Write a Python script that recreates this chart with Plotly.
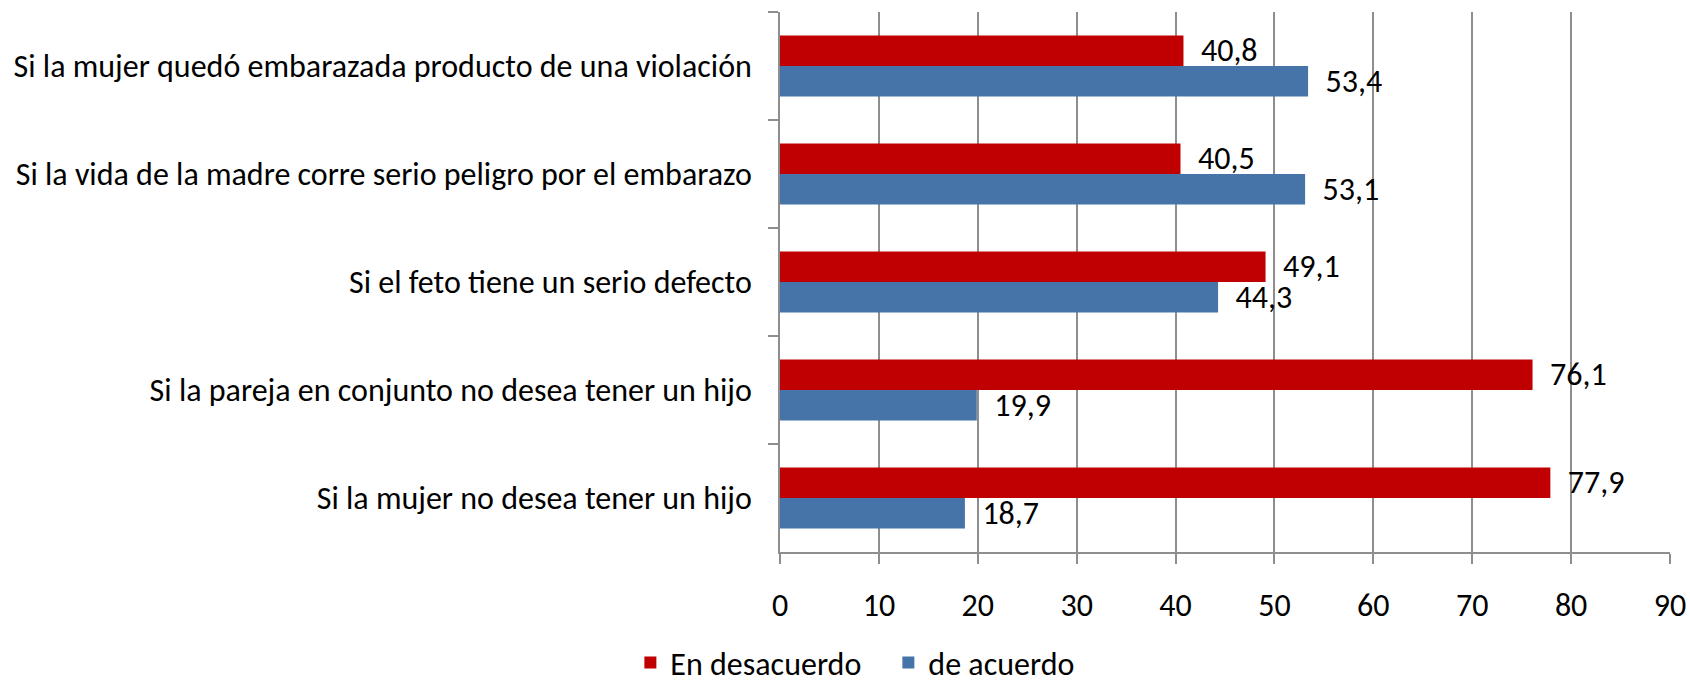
import plotly.graph_objects as go

# Survey items, listed top to bottom
categorias = [
    "Si la mujer quedó embarazada producto de una violación",
    "Si la vida de la madre corre serio peligro por el embarazo",
    "Si el feto tiene un serio defecto",
    "Si la pareja en conjunto no desea tener un hijo",
    "Si la mujer no desea tener un hijo",
]
en_desacuerdo = [40.8, 40.5, 49.1, 76.1, 77.9]
de_acuerdo = [53.4, 53.1, 44.3, 19.9, 18.7]
ticks_x = [0, 10, 20, 30, 40, 50, 60, 70, 80, 90]

FONT = "Carlito, Calibri, 'Liberation Sans Narrow', 'Open Sans', sans-serif"
FS = 32
GRID = "#8E8E8E"

# value labels sit a little to the right of each bar end
LABEL = "\u00a0\u00a0%{x:.1f}"

fig = go.Figure()
fig.add_trace(go.Bar(
    y=categorias, x=en_desacuerdo, orientation="h", name="En desacuerdo",
    marker=dict(color="#C00000", line=dict(width=0)),
    texttemplate=LABEL, textposition="outside",
    textfont=dict(size=FS, color="#000000", family=FONT),
    constraintext="none", cliponaxis=False,
))
fig.add_trace(go.Bar(
    y=categorias, x=de_acuerdo, orientation="h", name="de acuerdo",
    marker=dict(color="#4674A8", line=dict(width=0)),
    texttemplate=LABEL, textposition="outside",
    textfont=dict(size=FS, color="#000000", family=FONT),
    constraintext="none", cliponaxis=False,
))

fig.update_layout(
    width=1690, height=688,
    margin=dict(l=780, r=20, t=12, b=136, autoexpand=False),
    paper_bgcolor="white", plot_bgcolor="white",
    separators=",.",
    barmode="group", bargap=0.435, bargroupgap=0,
    font=dict(family=FONT, size=FS, color="#000000"),
    showlegend=True,
    legend=dict(
        orientation="h", xref="container", yref="paper",
        x=0.373, xanchor="left", y=-0.205, yanchor="middle",
        font=dict(size=FS, family=FONT), traceorder="normal",
        itemwidth=30, entrywidth=213, borderwidth=0,
    ),
    xaxis=dict(
        range=[0, 90], tickvals=ticks_x, ticktext=[str(v) for v in ticks_x],
        showgrid=True, gridcolor=GRID, gridwidth=1.5,
        showline=True, linecolor=GRID, linewidth=1.5,
        ticks="outside", ticklen=10, tickcolor=GRID, tickwidth=1.5,
        ticklabelstandoff=14, zeroline=False,
        tickfont=dict(size=FS, family=FONT),
    ),
    yaxis=dict(
        autorange="reversed", categoryorder="array", categoryarray=categorias,
        showline=True, linecolor=GRID, linewidth=1.5,
        ticks="outside", ticklen=10, tickcolor=GRID, tickwidth=1.5,
        tickson="boundaries", showgrid=False, ticklabelstandoff=20,
        tickfont=dict(size=FS, family=FONT),
    ),
)

fig.write_html("out.html")
